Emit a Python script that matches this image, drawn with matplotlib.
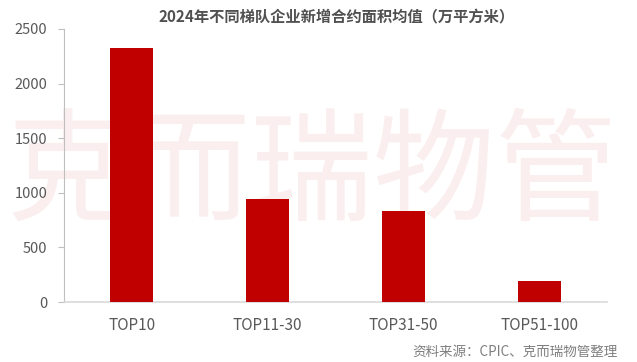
import matplotlib
matplotlib.use("Agg")
import matplotlib.pyplot as plt

plt.rcParams['font.family'] = ['Noto Sans CJK SC', 'DejaVu Sans']

categories = ["TOP10", "TOP11-30", "TOP31-50", "TOP51-100"]
values = [2325, 947, 836, 193]
yticks = [0, 500, 1000, 1500, 2000, 2500]
title = "2024年不同梯队企业新增合约面积均值（万平方米）"
source = "资料来源：CPIC、克而瑞物管整理"
watermark = "克而瑞物管"

fig = plt.figure(figsize=(6.37, 3.62), dpi=100)
ax = fig.add_axes([0.1005, 0.1657, 0.8525, 0.7543])
ax.set_zorder(2)
ax.patch.set_alpha(0)

fig.text(0.49, 0.512, watermark, fontsize=88, fontweight="medium", color="#FBEEEE",
         ha="center", va="center", zorder=0)

x = range(len(categories))
ax.bar(x, values, width=0.316, color="#C00000", zorder=3)
ax.set_xlim(-0.5, len(categories) - 0.5)
ax.set_ylim(0, 2500)
ax.set_yticks(yticks)
ax.set_yticklabels([str(v) for v in yticks])
ax.set_xticks(list(x))
ax.set_xticklabels(categories)

for s in ["top", "right"]:
    ax.spines[s].set_visible(False)
ax.spines["left"].set_color("#BFBFBF")
ax.spines["bottom"].set_color("#D9D9D9")
ax.spines["bottom"].set_linewidth(1.2)
ax.tick_params(axis="y", colors="#BFBFBF", labelcolor="#595959", labelsize=10.5, length=4, pad=8)
ax.tick_params(axis="x", length=0, labelcolor="#595959", labelsize=11, pad=11)

fig.text(0.529, 0.953, title, fontsize=11, fontweight="bold", color="#505050",
         ha="center", va="center")
fig.text(0.969, 0.028, source, fontsize=9.75, color="#7F7F7F", ha="right", va="center")

fig.savefig("out.png", dpi=100)
